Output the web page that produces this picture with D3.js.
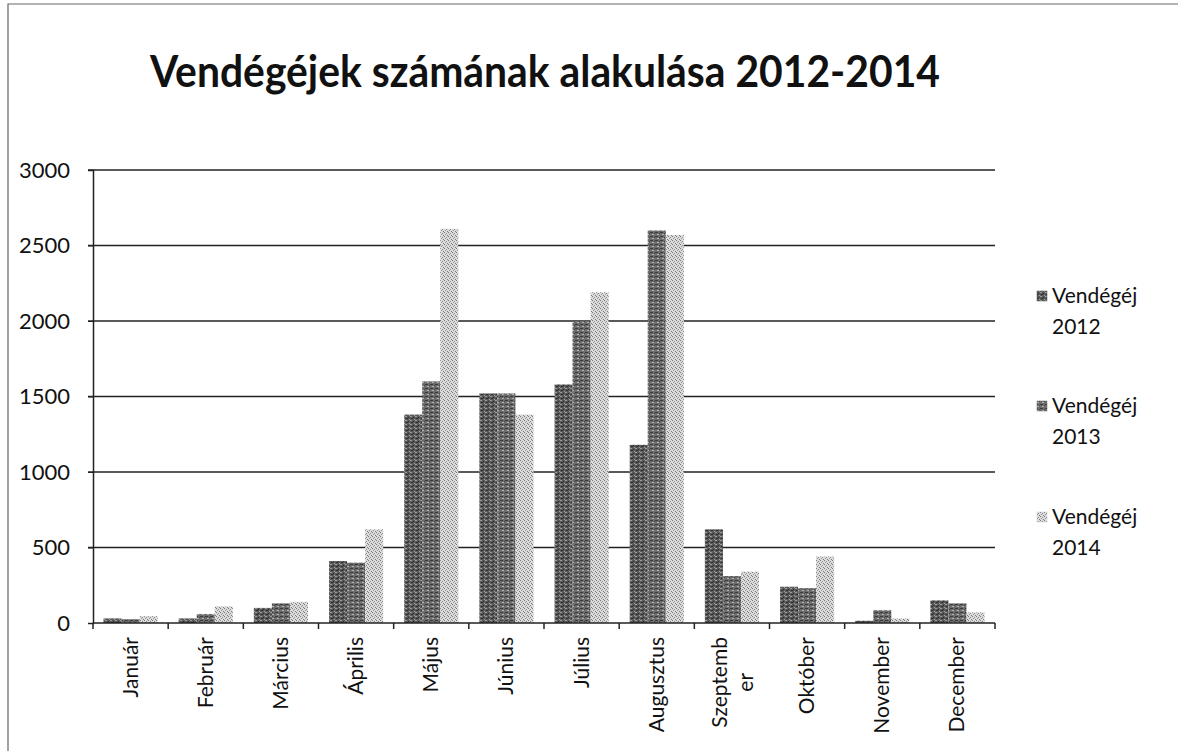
<!DOCTYPE html>
<html>
<head>
<meta charset="utf-8">
<title>Vendégéjek számának alakulása 2012-2014</title>
<style>
  body, html { margin: 0; padding: 0; background: #fff; overflow: hidden; }
  svg text { font-family: Lato, "Open Sans", sans-serif; fill: #111; }
</style>
<script src="https://cdnjs.cloudflare.com/ajax/libs/d3/7.8.5/d3.min.js"></script>
</head>
<body>
<svg id="chart" width="1178" height="751"></svg>
<script>
// data
const months = ['Január', 'Február', 'Március', 'Április', 'Május', 'Június',
                'Július', 'Augusztus', 'Szeptember', 'Október', 'November', 'December'];
const vendeg2012 = [30, 30, 100, 410, 1380, 1520, 1580, 1180, 620, 240, 15, 150];
const vendeg2013 = [25, 60, 130, 400, 1600, 1520, 2000, 2600, 310, 230, 85, 130];
const vendeg2014 = [45, 110, 140, 620, 2610, 1380, 2190, 2570, 340, 440, 30, 70];
const seriesNames = ['Vendégéj 2012', 'Vendégéj 2013', 'Vendégéj 2014'];
const yTicks = [0, 500, 1000, 1500, 2000, 2500, 3000];

const series = [vendeg2012, vendeg2013, vendeg2014];

const svg = d3.select('#chart');
const margin = {left: 93, right: 183, top: 170, bottom: 128};
const width = 1178, height = 751;

// gray print textures
const defs = svg.append('defs');
function pattern(id, bg, dots, size) {
    const p = defs.append('pattern')
        .attr('id', id)
        .attr('patternUnits', 'userSpaceOnUse')
        .attr('width', size[0]).attr('height', size[1]);
    p.append('rect').attr('width', size[0]).attr('height', size[1]).attr('fill', bg);
    dots.forEach(d => p.append('rect')
        .attr('x', d[0]).attr('y', d[1]).attr('width', d[2]).attr('height', 1).attr('fill', d[3]));
}
pattern('p2012', '#5a5a5a', [[0, 0, 2, '#9a9a9a'], [3, 1, 1, '#2a2a2a'], [1, 2, 2, '#2e2e2e'], [4, 3, 1, '#a0a0a0']], [5, 4]);
pattern('p2013', '#6e6e6e', [[0, 0, 3, '#3a3a3a'], [2, 2, 2, '#b0b0b0'], [4, 1, 1, '#444']], [5, 4]);
pattern('p2014', '#dcdcdc', [[0, 0, 1, '#777'], [2, 1, 1, '#8a8a8a'], [1, 2, 1, '#999'], [3, 3, 1, '#7a7a7a']], [4, 4]);
const fills = ['url(#p2012)', 'url(#p2013)', 'url(#p2014)'];
const swatchFills = ['#555', '#6a6a6a', '#c8c8c8'];

// outer frame of the chart object
svg.append('path')
    .attr('d', `M8,${height} L8,4 L${width},4`)
    .attr('fill', 'none')
    .attr('stroke', '#666')
    .attr('stroke-width', 1.2);

// title
svg.append('text')
    .attr('x', 545).attr('y', 87)
    .attr('text-anchor', 'middle')
    .attr('font-size', 44)
    .attr('font-weight', 'bold')
    .attr('textLength', 790)
    .attr('lengthAdjust', 'spacingAndGlyphs')
    .text('Vendégéjek számának alakulása 2012-2014');

const x = d3.scaleBand()
    .domain(months)
    .range([margin.left, width - margin.right])
    .paddingInner(0.28)
    .paddingOuter(0.14);

const xs = d3.scaleBand()
    .domain(d3.range(series.length))
    .range([0, x.bandwidth()]);

const y = d3.scaleLinear()
    .domain([0, 3000])
    .range([height - margin.bottom, margin.top]);

// grid
svg.append('g')
    .selectAll('line')
    .data(yTicks.slice(1))
    .join('line')
    .attr('x1', margin.left - 5).attr('x2', width - margin.right)
    .attr('y1', d => y(d)).attr('y2', d => y(d))
    .attr('stroke', '#222')
    .attr('stroke-width', 1.3);

// bars
series.forEach((vals, si) => {
    svg.append('g')
        .selectAll('rect')
        .data(vals)
        .join('rect')
        .attr('x', (d, i) => x(months[i]) + xs(si))
        .attr('y', d => y(d))
        .attr('width', xs.bandwidth())
        .attr('height', d => y(0) - y(d))
        .attr('fill', fills[si]);
});

// y axis
const yAxis = svg.append('g')
    .attr('transform', `translate(${margin.left},0)`)
    .call(d3.axisLeft(y).tickValues(yTicks).tickSize(5).tickPadding(18).tickFormat(d3.format('d')));
yAxis.select('.domain').attr('stroke', '#222').attr('stroke-width', 1.5);
yAxis.selectAll('.tick line').attr('stroke', '#222');
yAxis.selectAll('text').attr('font-size', 22).attr('fill', '#111').attr('font-family', 'Lato, sans-serif');

// x axis, ticks between categories
const step = x.step();
const bounds = d3.range(months.length + 1).map(i => margin.left + i * step);
const xg = svg.append('g');
xg.append('line')
    .attr('x1', margin.left).attr('x2', width - margin.right)
    .attr('y1', y(0)).attr('y2', y(0))
    .attr('stroke', '#222').attr('stroke-width', 1.5);
xg.selectAll('.tk')
    .data(bounds)
    .join('line')
    .attr('class', 'tk')
    .attr('x1', d => d).attr('x2', d => d)
    .attr('y1', y(0)).attr('y2', y(0) + 6)
    .attr('stroke', '#222').attr('stroke-width', 1.5);

// month labels, rotated; Szeptember wraps onto two lines
const labelLines = months.map(m => m === 'Szeptember' ? ['Szeptemb', 'er'] : [m]);
const lbl = xg.selectAll('.lbl')
    .data(months)
    .join('text')
    .attr('class', 'lbl')
    .attr('font-size', 21)
    .attr('text-anchor', 'end')
    .attr('transform', (d, i) => {
        const cx = x(d) + x.bandwidth() / 2;
        const off = labelLines[i].length > 1 ? -12 : 0;
        return `translate(${cx + 7 + off},${y(0) + 14}) rotate(-90)`;
    });
lbl.each(function(d, i) {
    const t = d3.select(this);
    labelLines[i].forEach((ln, k) => {
        t.append('tspan')
            .attr('x', 0)
            .attr('dy', k === 0 ? 0 : 26)
            .attr('text-anchor', k === 0 ? 'end' : 'middle')
            .attr('dx', k === 0 ? 0 : 0)
            .text(ln);
    });
});
// center the wrapped second line under the first
lbl.filter((d, i) => labelLines[i].length > 1).each(function() {
    const first = this.childNodes[0].getComputedTextLength();
    d3.select(this.childNodes[1]).attr('x', -first / 2).attr('text-anchor', 'middle');
});

// legend
const legendY = [296, 406, 517];
const lg = svg.append('g');
seriesNames.forEach((name, i) => {
    const parts = name.split(' ');
    lg.append('rect')
        .attr('x', 1037).attr('y', legendY[i] - 5)
        .attr('width', 10).attr('height', 10)
        .attr('fill', fills[i])
        .attr('stroke', swatchFills[i]).attr('stroke-width', 0.5);
    lg.append('text')
        .attr('x', 1052).attr('y', legendY[i] + 7)
        .attr('font-size', 21)
        .text(parts[0]);
    lg.append('text')
        .attr('x', 1052).attr('y', legendY[i] + 38)
        .attr('font-size', 21)
        .text(parts[1]);
});
</script>
</body>
</html>
